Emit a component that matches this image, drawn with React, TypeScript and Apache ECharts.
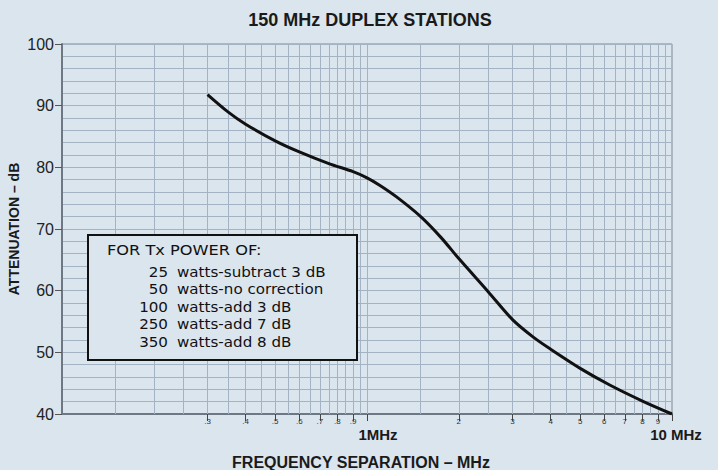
import React, { useEffect, useRef } from "react";
import * as echarts from "echarts";

// Curve: attenuation (dB) vs frequency separation (MHz)
const freqMHz = [0.3, 0.35, 0.4, 0.5, 0.6, 0.75, 0.9, 1.0, 1.1, 1.25, 1.5, 1.75, 2.0, 2.5, 3.0, 3.5, 4.0, 5.0, 6.25, 8.0, 10.0];
const attenDb = [91.8, 89.0, 87.0, 84.3, 82.5, 80.6, 79.3, 78.3, 77.1, 75.2, 72.0, 68.6, 65.2, 59.8, 55.3, 52.5, 50.5, 47.4, 44.7, 42.1, 40.0];

// X tick labels
const xTickValues = [0.3, 0.4, 0.5, 0.6, 0.7, 0.8, 0.9, 1, 2, 3, 4, 5, 6, 7, 8, 9, 10];
const xTickLabels = [".3", ".4", ".5", ".6", ".7", ".8", ".9", "1MHz", "2", "3", "4", "5", "6", "7", "8", "9", "10 MHz"];

// Vertical grid lines of the semi-log paper
const xGridValues = [
  0.15, 0.2, 0.25, 0.3, 0.35, 0.4, 0.45, 0.5, 0.55, 0.6, 0.65, 0.7, 0.75, 0.8, 0.85, 0.9, 0.95, 1,
  1.5, 2, 2.5, 3, 3.5, 4, 4.5, 5, 5.5, 6, 6.5, 7, 7.5, 8, 8.5, 9, 9.5,
];

// Legend box text
const legendHeader = "FOR Tx POWER OF:";
const powerWatts = ["25", "50", "100", "250", "350"];
const corrections = ["watts-subtract 3 dB", "watts-no correction", "watts-add 3 dB", "watts-add 7 dB", "watts-add 8 dB"];

const BG = "#dbe5ee";
const GRID = "#a3b3c3";
const FONT = "'Liberation Sans', Arial, sans-serif";
const LFONT = "'DejaVu Sans', sans-serif";

export default function App() {
  const ref = useRef<HTMLDivElement>(null);
  useEffect(() => {
    if (!ref.current) return;
    const chart = echarts.init(ref.current, undefined, { renderer: "svg" });

    const labelOf = (v: number) => {
      let best = 0;
      let bd = Infinity;
      xTickValues.forEach((t, i) => {
        const d = Math.abs(Math.log10(t) - Math.log10(v));
        if (d < bd) { bd = d; best = i; }
      });
      const s = xTickLabels[best];
      if (s === "1MHz") return "{b1|" + s + "}";
      if (s === "10 MHz") return "{b10|" + s + "}";
      return "{s|" + s + "}";
    };

    const legendTextStyle = { fontFamily: LFONT, fontSize: 13.5, fill: "#111" } as any;
    const rowY = [272, 289, 307, 324, 342];
    const SX = 1.12;
    const legendChildren: any[] = [
      {
        type: "rect",
        z: 100,
        shape: { x: 88, y: 235, width: 269, height: 125 },
        style: { fill: BG, stroke: "#111", lineWidth: 2 },
      },
      {
        type: "text",
        z: 101,
        x: 107,
        y: 250,
        scaleX: 1.2,
        style: { ...legendTextStyle, text: legendHeader, textVerticalAlign: "middle", textAlign: "left" },
      },
    ];
    powerWatts.forEach((w, i) => {
      legendChildren.push({
        type: "text",
        z: 101,
        x: 168,
        y: rowY[i],
        scaleX: SX,
        style: { ...legendTextStyle, text: w, textAlign: "right", textVerticalAlign: "middle" },
      });
      legendChildren.push({
        type: "text",
        z: 101,
        x: 177,
        y: rowY[i],
        scaleX: SX,
        style: { ...legendTextStyle, text: corrections[i], textAlign: "left", textVerticalAlign: "middle" },
      });
    });

    chart.setOption({
      animation: false,
      backgroundColor: BG,
      title: {
        text: "150 MHz DUPLEX STATIONS",
        left: 365,
        top: 6,
        textAlign: "center",
        textStyle: { fontFamily: FONT, fontSize: 18, fontWeight: "bold", color: "#1a1a1a" },
      },
      grid: {
        left: 62,
        right: 46,
        top: 44,
        bottom: 56,
        show: true,
        containLabel: false,
        outerBoundsMode: "none",
        borderColor: "#7d8894",
        borderWidth: 1,
        backgroundColor: "transparent",
      },
      xAxis: {
        type: "log",
        logBase: 10,
        min: 0.1,
        max: 10,
        name: "FREQUENCY SEPARATION – MHz",
        nameLocation: "middle",
        nameGap: 40,
        nameMoveOverlap: false,
        nameTextStyle: { fontFamily: FONT, fontSize: 16, fontWeight: "bold", color: "#1a1a1a", padding: [0, 12, 0, 0] },
        axisLine: { show: true, lineStyle: { color: "#6d7884", width: 2 } },
        axisTick: { show: true, customValues: xTickValues, length: 7, lineStyle: { color: "#444", width: 1 } },
        axisLabel: {
          show: true,
          customValues: xTickValues,
          margin: 3,
          formatter: (v: number) => labelOf(v),
          rich: {
            s: { fontFamily: FONT, fontSize: 8, color: "#333" },
            b1: { fontFamily: FONT, fontSize: 15, fontWeight: "bold", color: "#1a1a1a", padding: [10, 0, 0, 22] },
            b10: { fontFamily: FONT, fontSize: 15, fontWeight: "bold", color: "#1a1a1a", padding: [10, 0, 0, 8] },
          },
        },
        splitLine: { show: false },
        minorTick: { show: false },
        minorSplitLine: { show: false },
      },
      yAxis: {
        type: "value",
        min: 40,
        max: 100,
        interval: 10,
        name: "ATTENUATION – dB",
        nameLocation: "middle",
        nameRotate: 90,
        nameGap: 41,
        nameMoveOverlap: false,
        nameTextStyle: { fontFamily: FONT, fontSize: 14, fontWeight: "bold", color: "#1a1a1a" },
        axisLine: { show: true, lineStyle: { color: "#6d7884", width: 2 } },
        axisTick: { show: true, length: 7, lineStyle: { color: "#555", width: 1 } },
        axisLabel: { fontFamily: FONT, fontSize: 16, color: "#222", margin: 8 },
        splitLine: { show: true, lineStyle: { color: GRID, width: 1 } },
        minorTick: { show: false, splitNumber: 5 },
        minorSplitLine: { show: true, lineStyle: { color: GRID, width: 1 } },
      },
      series: [
        {
          name: "gridlines",
          type: "line",
          data: [],
          silent: true,
          z: 1,
          markLine: {
            silent: true,
            symbol: "none",
            label: { show: false },
            lineStyle: { color: GRID, width: 1, type: "solid" },
            data: xGridValues.map((v) => ({ xAxis: v })),
          },
        },
        {
          name: "attenuation",
          type: "line",
          data: freqMHz.map((f, i) => [f, attenDb[i]]),
          smooth: 0.3,
          showSymbol: false,
          symbol: "none",
          lineStyle: { color: "#111", width: 3 },
          z: 5,
        },
      ],
      graphic: legendChildren,
    });
    return () => chart.dispose();
  }, []);
  return (
    <div
      ref={ref}
      style={{ position: "fixed", left: 0, top: 0, width: 718, height: 470 }}
    />
  );
}
